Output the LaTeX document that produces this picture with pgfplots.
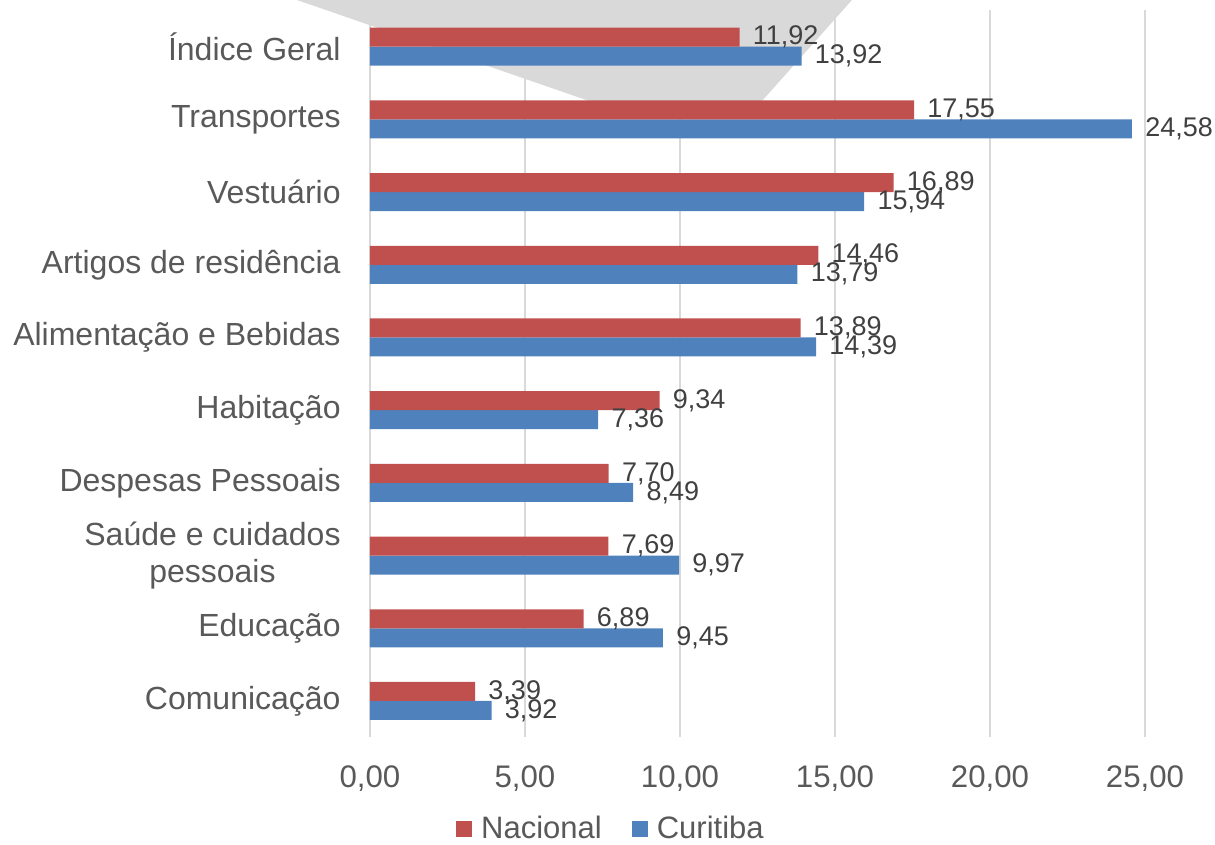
\documentclass[border=0pt]{standalone}
\usepackage{pgfplots}
\pgfplotsset{compat=1.18}
\usepackage{fontspec}
\setmainfont{Liberation Sans}
\definecolor{nac}{HTML}{C0504D}
\definecolor{cur}{HTML}{4F81BD}
\definecolor{lbl}{HTML}{595959}
\definecolor{dlbl}{HTML}{404040}
\definecolor{grd}{HTML}{D9D9D9}
\pgfkeys{/pgf/number format/assume math mode=true}
\begin{document}
\begin{tikzpicture}
\begin{axis}[
 scale only axis, width=418.5pt, height=363.5pt,
 xmin=0, xmax=27, ymin=-0.5, ymax=9.5,
 xbar, bar width=9.5pt,
 clip=false,
 axis line style={draw=none},
 major tick length=0pt,
 xmajorgrids, grid style={grd, line width=1pt},
 xtick={0,5,10,15,20,25},
 xticklabels={{0,00},{5,00},{10,00},{15,00},{20,00},{25,00}},
 ytick={0,1,2,3,4,5,6,7,8,9},
 yticklabels={Comunicação, Educação, {Saúde e cuidados\\pessoais}, Despesas Pessoais, Habitação, Alimentação e Bebidas, Artigos de residência, Vestuário, Transportes, Índice Geral},
 xticklabel style={font=\fontsize{15.6}{18}\selectfont, text=lbl, inner sep=0pt, yshift=-14pt},
 yticklabel style={font=\fontsize{16}{18.5}\selectfont, text=lbl, inner sep=0pt, xshift=-14.5pt, align=center},
 nodes near coords={\pgfmathprintnumber[fixed,fixed zerofill,precision=2,use comma]{\pgfplotspointmeta}},
 point meta=x,
 every node near coord/.append style={font=\fontsize{13.5}{15}\selectfont, text=dlbl, inner sep=0pt, xshift=6.5pt, anchor=west},
 legend columns=2, reverse legend,
 legend style={at={(0.2867,-0.1264)}, anchor=center, draw=none, fill=none,
   font=\fontsize{15.5}{17}\selectfont, text=lbl, inner sep=0pt, nodes={inner sep=0pt},
   /tikz/every odd column/.append style={column sep=4.5pt},
   /tikz/every even column/.append style={column sep=15pt}},
 legend image code/.code={\fill[#1] (0pt,-4pt) rectangle (8pt,4pt);},
]
\fill[grd] (axis cs:-2.355,9.642) -- (axis cs:7.065,8.253) -- (axis cs:12.645,8.253) -- (axis cs:15.548,9.642) -- cycle;
\addplot[fill=cur, draw=none, bar shift=-4.75pt] coordinates {
 (3.92,0) (9.45,1) (9.97,2) (8.49,3) (7.36,4) (14.39,5) (13.79,6) (15.94,7) (24.58,8) (13.92,9)};
\addlegendentry{Curitiba}
\addplot[fill=nac, draw=none, bar shift=4.75pt] coordinates {
 (3.39,0) (6.89,1) (7.69,2) (7.70,3) (9.34,4) (13.89,5) (14.46,6) (16.89,7) (17.55,8) (11.92,9)};
\addlegendentry{Nacional}
\coordinate (bbA) at (axis cs:-11.935,9.642);
\coordinate (bbB) at (axis cs:27.258,-1.981);
\end{axis}
\pgfresetboundingbox
\path[use as bounding box] (bbA) rectangle (bbB);
\end{tikzpicture}
\end{document}
